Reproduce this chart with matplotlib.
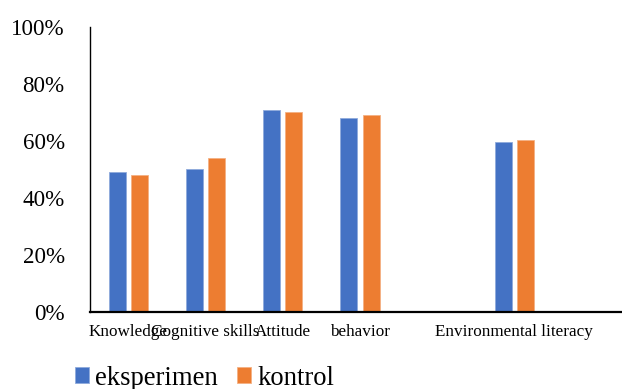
import matplotlib
matplotlib.use("Agg")
import matplotlib.pyplot as plt
import numpy as np

# data (one slot is left empty, as in the original)
categories = ["Knowledge", "Cognitive skills", "Attitude", "behavior", "", "Environmental literacy"]
eksperimen = [0.49, 0.50, 0.71, 0.68, np.nan, 0.596]
kontrol = [0.48, 0.54, 0.70, 0.69, np.nan, 0.603]
yticks = [0, 0.2, 0.4, 0.6, 0.8, 1.0]
ytick_labels = ["0%", "20%", "40%", "60%", "80%", "100%"]

BLUE = "#4472C4"
ORANGE = "#ED7D31"
FONT = "Liberation Serif"

fig = plt.figure(figsize=(6.22, 3.89), dpi=100)
ax = fig.add_axes([0.1442, 0.198, 0.8558, 0.7326])

x = np.arange(len(categories))
w = 0.22
off = 0.145
b1 = ax.bar(x - off, eksperimen, w, color=BLUE, edgecolor="#8FAADC", linewidth=0.6, label="eksperimen")
b2 = ax.bar(x + off, kontrol, w, color=ORANGE, edgecolor="#F4B183", linewidth=0.6, label="kontrol")

ax.set_xlim(-0.5, 6.395)
ax.set_ylim(0, 1.0)
ax.set_yticks(yticks)
ax.set_yticklabels(ytick_labels, fontfamily=FONT, fontsize=16.6)
ax.set_xticks(x)
ax.set_xticklabels(categories, fontfamily=FONT, fontsize=12.3)
ax.tick_params(axis="y", length=0, pad=18)
ax.tick_params(axis="x", length=0, pad=9)

for s in ["top", "right"]:
    ax.spines[s].set_visible(False)
ax.spines["left"].set_linewidth(1.0)
ax.spines["bottom"].set_linewidth(1.6)

fig.legend(handles=[b1, b2], loc="center left", bbox_to_anchor=(0.1206, 0.028),
           ncol=2, frameon=False, prop={"family": FONT, "size": 19.2},
           handlelength=0.52, handleheight=0.52, handletextpad=0.22,
           columnspacing=0.75, borderpad=0, borderaxespad=0)

fig.savefig("out.png", dpi=100)
